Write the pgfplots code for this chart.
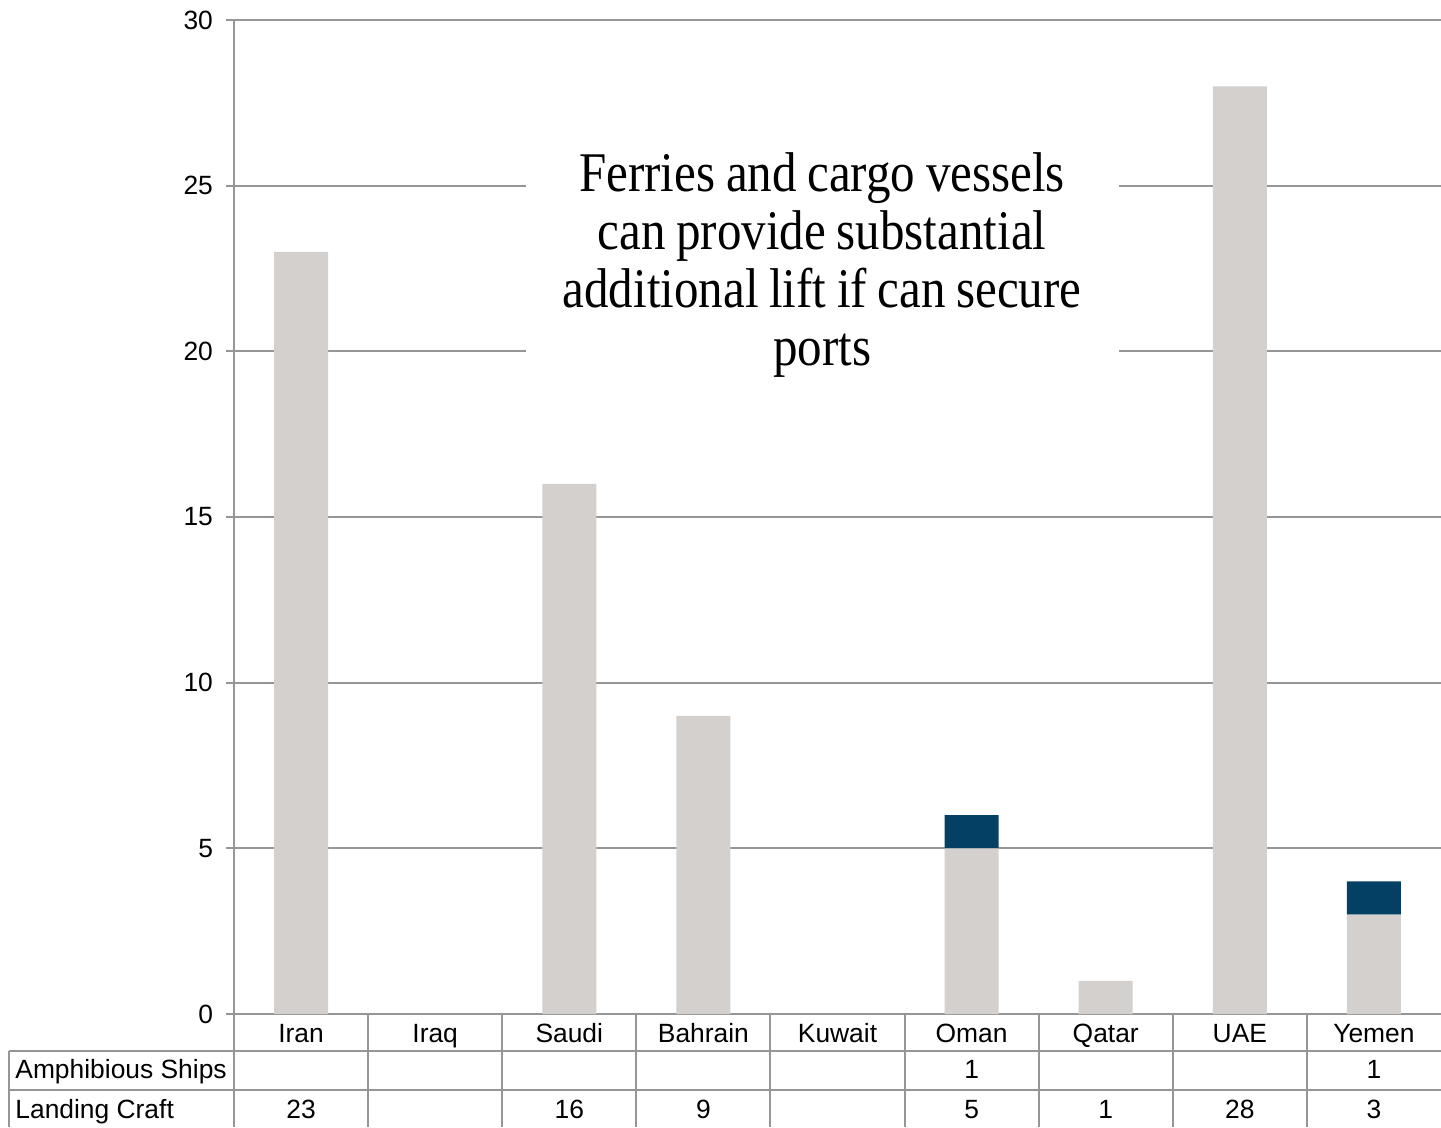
\documentclass[border=0pt]{standalone}
\usepackage{fontspec}
\setmainfont{Liberation Sans}
\newfontfamily\annfont[FakeStretch=0.875]{Liberation Serif}
\usepackage{pgfplots}
\pgfplotsset{compat=1.18}
\definecolor{barGray}{RGB}{211,208,205}
\definecolor{barBlue}{RGB}{4,64,100}
\definecolor{gridGray}{RGB}{150,150,150}
\newcommand{\tfont}{\fontsize{13.2}{15}\selectfont}
\newcommand{\afont}{\annfont\fontsize{28}{29}\selectfont\fontdimen2\font=0.19em\fontdimen3\font=0pt\fontdimen4\font=0pt}
\begin{document}
\begin{tikzpicture}
\begin{axis}[
  scale only axis,
  width=603.5pt, height=497pt,
  xmin=0, xmax=9, ymin=0, ymax=30,
  ybar stacked, bar width=27pt,
  axis lines*=left,
  axis line style={draw=gridGray, line width=1pt},
  xtick=\empty,
  ytick={0,5,10,15,20,25,30},
  ymajorgrids,
  grid style={draw=gridGray, line width=1pt},
  tick align=outside,
  major tick length=4pt,
  ytick style={draw=gridGray, line width=1pt},
  yticklabel style={font=\tfont, xshift=-3pt},
  /pgf/number format/assume math mode=true,
  clip=false,
]
\addplot+[fill=barGray, draw=none] coordinates {
  (0.5,23) (1.5,0) (2.5,16) (3.5,9) (4.5,0) (5.5,5) (6.5,1) (7.5,28) (8.5,3)};
\addplot+[fill=barBlue, draw=none] coordinates {
  (0.5,0) (1.5,0) (2.5,0) (3.5,0) (4.5,0) (5.5,1) (6.5,0) (7.5,0) (8.5,1)};

\coordinate (O) at (axis cs:0,0);
\coordinate (TR) at (axis cs:9,30);

% annotation
\node[fill=white, inner sep=0pt, minimum width=296.5pt, minimum height=120pt, text width=296.5pt, align=flush center, font=\afont] at (axis cs:4.385,22.6)
  {Ferries and cargo vessels\\can provide substantial\\additional lift if can secure\\ports};
\end{axis}
% table lines
\def\cw{67.0556pt}
\draw[gridGray, line width=1pt] ([xshift=-112.5pt,yshift=-18.5pt]O) -- ([xshift=603.5pt,yshift=-18.5pt]O);
\draw[gridGray, line width=1pt] ([xshift=-112.5pt,yshift=-38pt]O) -- ([xshift=603.5pt,yshift=-38pt]O);
\draw[gridGray, line width=1pt] ([xshift=-112.5pt,yshift=-18.5pt]O) -- ([xshift=-112.5pt,yshift=-56.5pt]O);
\foreach \k in {0,1,...,8} {
  \draw[gridGray, line width=1pt] ([xshift=\k*\cw]O) -- ([xshift=\k*\cw,yshift=-56.5pt]O);
}
% table text
\foreach \x/\n in {0.5/Iran,1.5/Iraq,2.5/Saudi,3.5/Bahrain,4.5/Kuwait,5.5/Oman,6.5/Qatar,7.5/UAE,8.5/Yemen} {
  \node[anchor=base, inner sep=0pt, font=\tfont] at ([xshift=\x*\cw,yshift=-14pt]O) {\n};
}
\node[anchor=base west, inner sep=0pt, font=\tfont] at ([xshift=-109.5pt,yshift=-32pt]O) {Amphibious Ships};
\node[anchor=base west, inner sep=0pt, font=\tfont] at ([xshift=-109.5pt,yshift=-52pt]O) {Landing Craft};
\foreach \x/\n in {5.5/1,8.5/1} {
  \node[anchor=base, inner sep=0pt, font=\tfont] at ([xshift=\x*\cw,yshift=-32pt]O) {\n};
}
\foreach \x/\n in {0.5/23,2.5/16,3.5/9,5.5/5,6.5/1,7.5/28,8.5/3} {
  \node[anchor=base, inner sep=0pt, font=\tfont] at ([xshift=\x*\cw,yshift=-52pt]O) {\n};
}
\pgfresetboundingbox
\path ([xshift=-117pt,yshift=-56.5pt]O) rectangle ([yshift=10pt]TR);
\end{tikzpicture}
\end{document}
